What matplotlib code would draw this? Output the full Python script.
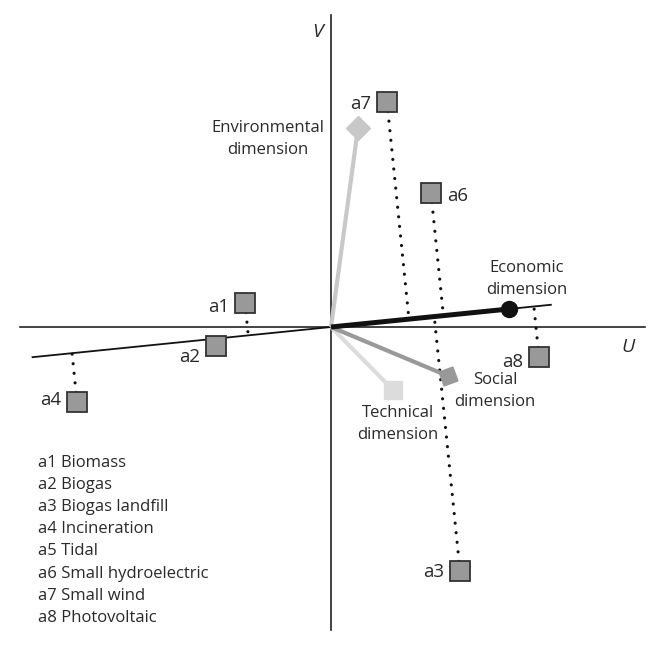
import numpy as np
import matplotlib
matplotlib.use("Agg")
import matplotlib.pyplot as plt

plt.rcParams['font.family'] = ['Open Sans', 'DejaVu Sans']

# ---- data (GAIA plane coordinates) ----
alt_names = ["a1", "a2", "a3", "a4", "a6", "a7", "a8"]
alt_u = [-0.86, -1.15, 1.29, -2.54, 1.00, 0.56, 2.08]
alt_v = [0.24, -0.19, -2.44, -0.75, 1.34, 2.25, -0.30]
alt_label_side = ["left", "left", "left", "left", "right", "left", "left"]
alt_label_dy = [-4, -11, -1, 2, -3, -2, -5]   # pixel shift of the label

dim_names = ["Environmental\ndimension", "Economic\ndimension",
             "Social\ndimension", "Technical\ndimension"]
dim_u = [0.27, 1.78, 1.17, 0.62]
dim_v = [1.99, 0.18, -0.49, -0.63]
dim_label_u = [-0.63, 1.96, 1.64, 0.67]
dim_label_v = [1.875, 0.475, -0.64, -0.97]

decision_t = [-3.00, 2.21]   # extent of the decision axis (along economic dir.)

legend_items = ["a1 Biomass", "a2 Biogas", "a3 Biogas landfill", "a4 Incineration",
                "a5 Tidal", "a6 Small hydroelectric", "a7 Small wind", "a8 Photovoltaic"]

# ---- figure ----
W, H = 651, 657
fig = plt.figure(figsize=(W / 100, H / 100), dpi=100)
ax = fig.add_axes([0, 0, 1, 1])
ax.set_xlim(-3.31, 3.20)
ax.set_ylim(-3.30, 3.27)
ax.axis('off')

txt_color = '#2a2a2a'

# axes U / V
ax.plot([-3.11, 3.14], [0, 0], color='#222222', lw=1.2, zorder=1)
ax.plot([0, 0], [-3.03, 3.12], color='#222222', lw=1.2, zorder=1)
ax.text(-0.13, 2.95, "V", fontsize=14, style='italic', ha='center', va='center', color=txt_color)
ax.text(2.97, -0.20, "U", fontsize=14, style='italic', ha='center', va='center', color=txt_color)

# decision axis
d = np.array([dim_u[1], dim_v[1]])
d = d / np.linalg.norm(d)
ax.plot([decision_t[0] * d[0], decision_t[1] * d[0]],
        [decision_t[0] * d[1], decision_t[1] * d[1]], color='#111111', lw=1.3, zorder=2)

# projections (dotted)
for u, v in zip(alt_u, alt_v):
    t = u * d[0] + v * d[1]
    pu, pv = t * d[0], t * d[1]
    ax.plot([u, pu], [v, pv], color='#111111', lw=2.3, ls=(0, (0.01, 3.0)),
            dash_capstyle='round', zorder=3)

# dimensions
dim_colors = ['#c8c8c8', '#111111', '#999999', '#dcdcdc']
dim_lw = [3.0, 3.6, 3.0, 3.0]
dim_markers = ['D', 'o', (4, 0, 65), 's']
dim_ms = [12, 11.5, 15, 13]
order = [3, 0, 2, 1]
for i in order:
    ax.plot([0, dim_u[i]], [0, dim_v[i]], color=dim_colors[i], lw=dim_lw[i],
            solid_capstyle='butt', zorder=4)
    ax.plot([dim_u[i]], [dim_v[i]], marker=dim_markers[i], ms=dim_ms[i],
            color=dim_colors[i], mec=dim_colors[i], zorder=5, ls='none')
    ax.text(dim_label_u[i], dim_label_v[i], dim_names[i], fontsize=12,
            ha='center', va='center', color=txt_color, linespacing=1.5, zorder=6)

# alternatives
ax.plot(alt_u, alt_v, ls='none', marker='s', ms=15, mfc='#999999', mec='#333333',
        mew=1.3, zorder=7)
for name, u, v, side, dy in zip(alt_names, alt_u, alt_v, alt_label_side, alt_label_dy):
    dx = -16 if side == 'left' else 16
    ax.annotate(name, (u, v), xytext=(dx * 0.72, dy * 0.72), textcoords='offset points',
                ha='right' if side == 'left' else 'left', va='center',
                fontsize=13.5, color=txt_color, zorder=8)

# legend list
for k, item in enumerate(legend_items):
    ax.text(-2.93, -1.36 - 0.221 * k, item, fontsize=12, ha='left', va='center',
            color=txt_color)

fig.savefig("out.png", dpi=100)
